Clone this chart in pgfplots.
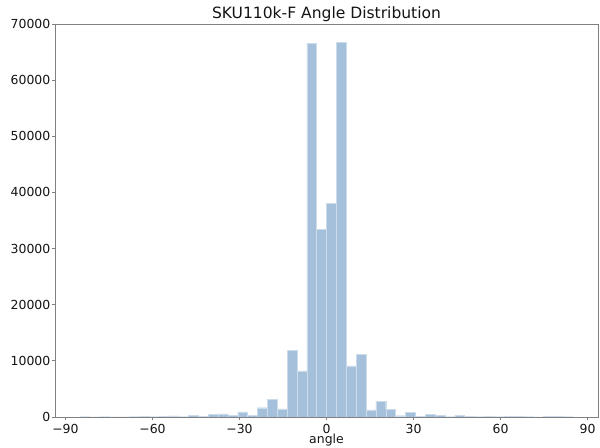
\documentclass[border=0pt]{standalone}
\usepackage{fontspec}
\setmainfont{DejaVu Sans}
\usepackage{pgfplots}
\pgfplotsset{compat=1.18}
\definecolor{barc}{RGB}{164,192,218}
\definecolor{framec}{RGB}{128,128,128}
\definecolor{txtc}{RGB}{20,20,20}
\begin{document}
\begin{tikzpicture}[x=1bp,y=1bp]
\useasboundingbox (0,0) rectangle (600,448);
\begin{axis}[
  at={(55bp,31bp)}, anchor=south west,
  scale only axis, width=543bp, height=393bp,
  xmin=-93.6, xmax=93.6, ymin=0, ymax=70000,
  xtick={-90,-60,-30,0,30,60,90},
  xticklabels={−90,−60,−30,0,30,60,90},
  ytick={0,10000,20000,30000,40000,50000,60000,70000},
  yticklabels={0,10000,20000,30000,40000,50000,60000,70000},
  scaled y ticks=false,
  tick align=outside, major tick length=3.5bp,
  tick style={framec, line width=0.8bp},
  axis line style={framec, line width=0.8bp},
  xtick pos=bottom, ytick pos=left,
  ticklabel style={font=\fontsize{12.5}{14}\selectfont, text=txtc},
  xticklabel style={anchor=base, inner sep=0pt, yshift=-13bp},
  yticklabel style={anchor=east, inner sep=0pt, xshift=-1bp},
  xlabel={angle},
  xlabel style={font=\fontsize{12.5}{14}\selectfont, text=txtc, at={(axis description cs:0.5,0)}, anchor=base, inner sep=0pt, yshift=-27bp},
  title={SKU110k-F Angle Distribution},
  title style={font=\fontsize{15.6}{18}\selectfont, text=txtc, at={(axis description cs:0.5,1)}, anchor=south, inner sep=0pt, yshift=-4bp},
]
\addplot[ybar interval, fill=barc, draw=white!45!barc, line width=0.3bp] coordinates {
(-85,60) (-81.6,40) (-78.2,50) (-74.8,40) (-71.4,40) (-68,60) (-64.6,150) (-61.2,50) (-57.8,120) (-54.4,180)
(-51,60) (-47.6,330) (-44.2,100) (-40.8,420) (-37.4,560) (-34,300) (-30.6,900) (-27.2,330) (-23.8,1650) (-20.4,3200)
(-17,1450) (-13.6,11900) (-10.2,8200) (-6.8,66500) (-3.4,33400) (0,38100) (3.4,66700) (6.8,9100) (10.2,11200) (13.6,1250)
(17,2800) (20.4,1350) (23.8,230) (27.2,780) (30.6,100) (34,430) (37.4,350) (40.8,60) (44.2,250) (47.6,100)
(51,60) (54.4,150) (57.8,50) (61.2,100) (64.6,80) (68,60) (71.4,40) (74.8,120) (78.2,100) (81.6,50)
(85,50)
};
\end{axis}
\end{tikzpicture}
\end{document}
